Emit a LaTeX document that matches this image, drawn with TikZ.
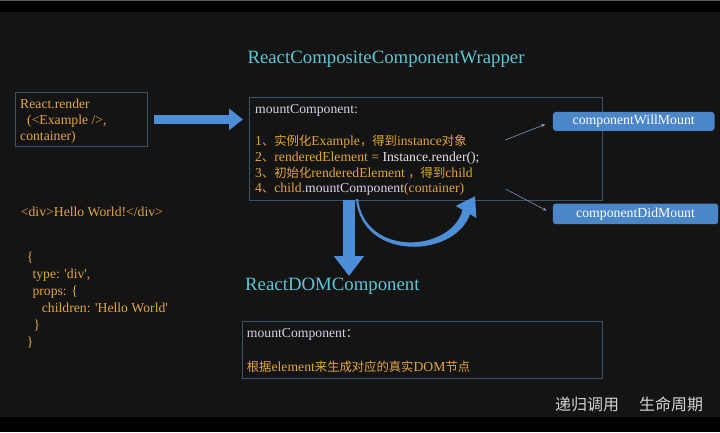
\documentclass[tikz,border=0pt]{standalone}
\usepackage{fontspec}
\setmainfont{Liberation Serif}
\newfontfamily\cjk{Noto Sans CJK SC}[Scale=0.9]
\newfontfamily\captionfont{Noto Sans CJK SC}
\usetikzlibrary{arrows.meta}
\definecolor{bgdark}{HTML}{141414}
\definecolor{topgray}{HTML}{5E5E5E}
\definecolor{codegold}{HTML}{E2A53E}
\definecolor{titlecyan}{HTML}{5CC6D4}
\definecolor{lavender}{HTML}{D8D0EA}
\definecolor{codewhite}{HTML}{E6E6EE}
\definecolor{panelline}{HTML}{3E5266}
\definecolor{flowblue}{HTML}{4C8ED8}
\definecolor{hookblue}{HTML}{4A86C8}
\definecolor{pointergray}{HTML}{7E98B4}
\definecolor{captiongray}{HTML}{D4D4D4}
\tikzset{
    react slide/.style = {x=1pt, y=-1pt},
    panel/.style       = {draw=panelline, line width=0.8pt, anchor=north west,
                          inner sep=0pt},
    hook/.style        = {fill=hookblue, rounded corners=3pt, text=white,
                          font=\fontsize{13.8}{15}\selectfont,
                          anchor=north west, inner sep=0pt},
    code/.style        = {text=codegold, font=\fontsize{13.7}{15}\selectfont,
                          anchor=base west, inner sep=0pt},
    method/.style      = {code, text=lavender},
    heading/.style     = {text=titlecyan, font=\fontsize{18.8}{21}\selectfont,
                          anchor=base west, inner sep=0pt},
    flow/.style        = {draw=flowblue, line width=9pt,
                          -{Triangle[length=14pt, width=21pt]}},
    pointer/.style     = {draw=pointergray, line width=0.6pt,
                          -{Stealth[length=4pt, width=3.5pt]}}
}

\begin{document}
\begin{tikzpicture}[react slide]

% ================= Background =================
\useasboundingbox (0,0) rectangle (720,432);
\fill[black] (0,0) rectangle (720,432);
\fill[topgray] (0,0) rectangle (720,1.2);
\fill[bgdark] (0,11.7) rectangle (720,416.7);

% ================= Headings =================
\node[heading] (compositetitle) at (247.3,63.3) {ReactCompositeComponentWrapper};
\node[heading] (domtitle) at (245,290) {ReactDOMComponent};

% ================= Render call =================
\node[panel, minimum width=132pt, minimum height=54pt] (render) at (15,92) {};
\node[code] (renderA) at (20,108.7) {React.render};
\node[code] (renderB) at (27,124.7) {(<Example />,};
\node[code] (renderC) at (20,140.7) {container)};

% ================= Composite wrapper =================
\node[panel, minimum width=352.7pt, minimum height=103.3pt] (wrapper) at (249,96.7) {};
\node[method] (mountA) at (255,113.3) {mountComponent:};
\node[code] (stepone) at (255,145.7)
    {1{\cjk 、实例化}Example{\cjk ，得到}instance{\cjk 对象}};
\node[code] (steptwo) at (255,161.2)
    {2{\cjk 、}renderedElement = \textcolor{codewhite}{Instance.render();}};
\node[code] (stepthree) at (255,177.2)
    {3{\cjk 、初始化}renderedElement {\cjk ，得到}child};
\node[code] (stepfour) at (255,192.7)
    {4{\cjk 、}child.\textcolor{lavender}{mountComponent}(container)};

\draw[flow, shorten <=6pt, shorten >=6pt] (render.east) -- (render.east -| wrapper.west);

% ================= Lifecycle hooks =================
\node[hook, minimum width=161.6pt, minimum height=19pt] (willmount) at (552.7,111.7) {componentWillMount};
\node[hook, minimum width=165.3pt, minimum height=20.7pt] (didmount) at (552.7,203.3) {componentDidMount};
\coordinate (willfrom) at (505.3,140);
\coordinate (didfrom) at (506,189.3);
\draw[pointer, shorten >=8pt] (willfrom) -- (willmount.west);
\draw[pointer, shorten >=7pt] (didfrom) -- (didmount.west);

% ================= Recursion arrows =================
\coordinate (split) at (349,200);
\coordinate (splitend) at (349,276);
\draw[flow, line width=12pt, -{Triangle[length=20pt, width=29pt]}] (split) -- (splitend);
\fill[flowblue] (356,199) .. controls (362,262) and (455,258) .. (470,214.2)
    -- (476.4,218) -- (475,196.3) -- (455.6,206) -- (462.5,209.8)
    .. controls (452,252) and (365,258) .. (358,199) -- cycle;

% ================= DOM component =================
\node[panel, minimum width=360pt, minimum height=56.7pt] (dompanel) at (241.7,321) {};
\node[method] (mountB) at (246.7,337.3) {mountComponent{\cjk ：}};
\node[code] (domtask) at (246.7,371.7)
    {{\cjk 根据}element{\cjk 来生成对应的真实}DOM{\cjk 节点}};

% ================= Element description =================
\node[code] (jsx) at (20.7,216.7) {<div>Hello World!</div>};
\node[code] (objopen) at (26.7,261) {\{};
\node[code] (objtype) at (32.3,278) {type: \textquotesingle div\textquotesingle,};
\node[code] (objprops) at (32.3,295) {props: \{};
\node[code] (objchild) at (41.7,312) {children: \textquotesingle Hello World\textquotesingle};
\node[code] (propsclose) at (33.3,329) {\}};
\node[code] (objclose) at (26.7,346) {\}};

% ================= Caption =================
\node[anchor=base west, text=captiongray, inner sep=0pt,
      font=\captionfont\fontsize{16}{18}\selectfont] (caption) at (555,410) {递归调用\hspace{20pt}生命周期};

\end{tikzpicture}
\end{document}
